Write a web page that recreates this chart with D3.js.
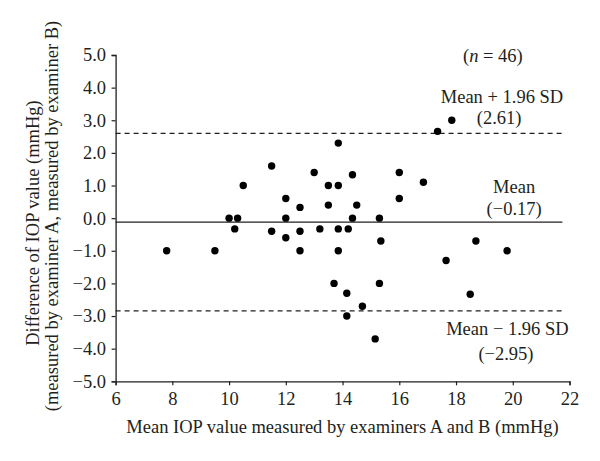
<!DOCTYPE html>
<html>
<head>
<meta charset="utf-8">
<script src="https://cdn.jsdelivr.net/npm/d3@7"></script>
<style>
  body { margin: 0; background: #fff; }
  svg text { font-family: "Liberation Serif", "DejaVu Serif", serif; fill: #231f20; }
</style>
</head>
<body>
<main></main>
<script>
// Bland-Altman points: mean IOP (x) and difference A-B (y)
const meanIOP = [7.8, 9.5, 10.0, 10.3, 10.2, 10.5, 11.5, 11.5, 12.0, 12.0, 12.0, 12.5, 12.5, 12.5,
  13.0, 13.2, 13.5, 13.85, 13.5, 13.85, 13.85, 13.85, 14.2, 14.35, 14.35, 14.5, 15.3, 15.35,
  16.0, 16.0, 16.85, 17.35, 17.85, 13.7, 15.3, 14.15, 14.7, 14.15, 15.15, 18.7, 19.8, 17.65, 18.5];
const diffIOP = [-1.0, -1.0, 0.0, 0.0, -0.33, 1.0, 1.6, -0.4, 0.6, 0.0, -0.6, 0.33, -0.4, -1.0,
  1.4, -0.33, 1.0, 1.0, 0.4, 2.3, -0.33, -1.0, -0.33, 1.33, 0.0, 0.4, 0.0, -0.7,
  1.4, 0.6, 1.1, 2.66, 3.0, -2.0, -2.0, -2.3, -2.7, -3.0, -3.7, -0.7, -1.0, -1.3, -2.33];

// reference lines (upper limit, mean, lower limit) as drawn
const lineValues = [2.6, -0.12, -2.84];
const lineLabels = [["Mean + 1.96 SD", "(2.61)"], ["Mean", "(\u22120.17)"], ["Mean \u2212 1.96 SD", "(\u22122.95)"]];

const xTicks = [6, 8, 10, 12, 14, 16, 18, 20, 22];
const yTicks = [5, 4, 3, 2, 1, 0, -1, -2, -3, -4, -5];

const width = 600;
const height = 461;
const margin = { top: 55, right: 30.5, bottom: 79.7, left: 115.6 };
const boundedWidth = width - margin.left - margin.right;
const boundedHeight = height - margin.top - margin.bottom;
const fs = 18.5;

const svg = d3.select("main").append("svg")
  .attr("width", width)
  .attr("height", height);

const g = svg.append("g")
  .attr("transform", `translate(${margin.left},${margin.top})`);

const xScale = d3.scaleLinear().domain([6, 22]).range([0, boundedWidth]);
const yScale = d3.scaleLinear().domain([-5, 5]).range([boundedHeight, 0]);

// axes
const xAxis = g.append("g")
  .attr("transform", `translate(0,${boundedHeight})`)
  .call(d3.axisBottom(xScale).tickValues(xTicks).tickSizeOuter(0).tickSize(4).tickPadding(7));
const yAxis = g.append("g")
  .call(d3.axisLeft(yScale).tickValues(yTicks).tickSizeOuter(0).tickSize(4).tickPadding(5.5)
    .tickFormat(d3.format(".1f")));

[xAxis, yAxis].forEach(a => {
  a.select(".domain").attr("stroke", "#231f20").attr("stroke-width", 1.3);
  a.selectAll(".tick line").attr("stroke", "#231f20").attr("stroke-width", 1.2);
  a.selectAll(".tick text").attr("font-size", fs).attr("font-family", null).attr("fill", "#231f20");
});

// reference lines
const lineEnd = 21.75;
g.selectAll(".ref")
  .data(lineValues)
  .join("line")
  .attr("class", "ref")
  .attr("x1", xScale(6))
  .attr("x2", xScale(lineEnd))
  .attr("y1", d => yScale(d))
  .attr("y2", d => yScale(d))
  .attr("stroke", "#231f20")
  .attr("stroke-width", 1.3)
  .attr("stroke-dasharray", (d, i) => i === 1 ? null : "5,4");

// points
g.selectAll("circle")
  .data(meanIOP)
  .join("circle")
  .attr("cx", d => xScale(d))
  .attr("cy", (d, i) => yScale(diffIOP[i]))
  .attr("r", 3.7)
  .attr("fill", "#000");

// labels for the lines: centre x of each row, baseline y of first row, gap to second row
const labelX = [[19.62, 19.52], [20.05, 20.05], [19.81, 19.76]];
const labelY = [3.52, 0.765, -3.58];
const labelGap = [21, 22, 25];
lineLabels.forEach((lines, i) => {
  const t = g.append("text")
    .attr("text-anchor", "middle")
    .attr("font-size", fs)
    .attr("y", yScale(labelY[i]));
  lines.forEach((s, j) => {
    t.append("tspan")
      .attr("x", xScale(labelX[i][j]))
      .attr("dy", j === 0 ? 0 : labelGap[i])
      .text(s);
  });
});

// sample size
const nText = g.append("text")
  .attr("text-anchor", "middle")
  .attr("font-size", fs)
  .attr("x", xScale(19.3))
  .attr("y", yScale(4.78));
nText.append("tspan").text("(");
nText.append("tspan").attr("font-style", "italic").text("n");
nText.append("tspan").text(" = 46)");

// axis titles
svg.append("text")
  .attr("text-anchor", "middle")
  .attr("font-size", fs)
  .attr("x", 342.5)
  .attr("y", 433)
  .text("Mean IOP value measured by examiners A and B (mmHg)");

svg.append("text")
  .attr("text-anchor", "middle")
  .attr("font-size", fs)
  .attr("transform", "translate(39,223) rotate(-90)")
  .text("Difference of IOP value (mmHg)");
svg.append("text")
  .attr("text-anchor", "middle")
  .attr("font-size", fs)
  .attr("transform", "translate(58,216) rotate(-90)")
  .text("(measured by examiner A, measured by examiner B)");
</script>
</body>
</html>
